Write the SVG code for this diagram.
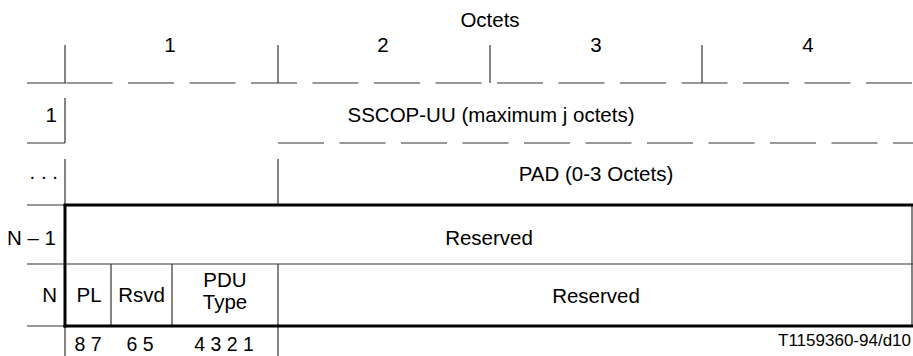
<svg xmlns="http://www.w3.org/2000/svg" width="913" height="356" viewBox="0 0 913 356">
<style>
text{font-family:"Liberation Sans",Arial,sans-serif;font-size:20.5px;fill:#000}
.c{text-anchor:middle}
.r{text-anchor:end}
.thin{stroke:#333;stroke-width:1.2;fill:none}
.thick{stroke:#000;stroke-width:3;fill:none}
.dash{stroke:#333;stroke-width:1.2;fill:none;stroke-dasharray:46 15.5}
</style>
<g id="connectors">
<line class="thin" x1="27" y1="83" x2="66" y2="83"/>
<line class="dash" x1="66.5" y1="83" x2="913" y2="83"/>
<line class="thin" x1="65" y1="45" x2="65" y2="83"/>
<line class="thin" x1="278" y1="45" x2="278" y2="83"/>
<line class="thin" x1="490" y1="45" x2="490" y2="83"/>
<line class="thin" x1="702" y1="45" x2="702" y2="83"/>
<line class="thin" x1="65" y1="98" x2="65" y2="143"/>
<line class="thin" x1="27" y1="143" x2="65" y2="143"/>
<line class="dash" x1="278" y1="143" x2="913" y2="143"/>
<line class="thin" x1="65" y1="159" x2="65" y2="205"/>
<line class="thin" x1="278" y1="159" x2="278" y2="205"/>
<line class="thin" x1="27" y1="205" x2="65" y2="205"/>
<line class="thin" x1="912" y1="205" x2="912" y2="326"/>
<line class="thin" x1="27" y1="264" x2="913" y2="264"/>
<line class="thin" x1="111" y1="264" x2="111" y2="326"/>
<line class="thin" x1="172" y1="264" x2="172" y2="326"/>
<line class="thin" x1="278" y1="264" x2="278" y2="356"/>
<line class="thin" x1="27" y1="326" x2="65" y2="326"/>
<line class="thin" x1="65" y1="326" x2="65" y2="356"/>
<line class="thick" x1="63.5" y1="205" x2="913" y2="205"/>
<line class="thick" x1="63.5" y1="326" x2="913" y2="326"/>
<line class="thick" x1="65" y1="205" x2="65" y2="327.5"/>
</g>
<g id="header">
<text class="c" x="490" y="27">Octets</text>
<text class="c" x="170" y="52">1</text>
<text class="c" x="383" y="52">2</text>
<text class="c" x="596" y="52">3</text>
<text class="c" x="808" y="52">4</text>
</g>
<g id="row1">
<text class="r" x="57" y="122">1</text>
<text class="c" x="491" y="122">SSCOP-UU (maximum j octets)</text>
</g>
<g id="rowdots">
<text class="r" x="58" y="179">. . .</text>
<text class="c" x="596" y="181">PAD (0-3 Octets)</text>
</g>
<g id="rowN1">
<text class="r" x="56" y="245">N – 1</text>
<text class="c" x="489" y="245">Reserved</text>
</g>
<g id="rowN">
<text class="r" x="57" y="302">N</text>
<text class="c" x="89" y="302">PL</text>
<text class="c" x="141.5" y="302">Rsvd</text>
<text class="c" x="225" y="287">PDU</text>
<text class="c" x="225" y="309">Type</text>
<text class="c" x="596" y="303">Reserved</text>
</g>
<g id="bits">
<text class="c" x="88" y="351" style="font-size:19.5px">8 7</text>
<text class="c" x="140" y="351" style="font-size:19.5px">6 5</text>
<text class="c" x="224" y="351" style="font-size:19.5px">4 3 2 1</text>
</g>
<text class="r" x="911" y="346" style="font-size:17px">T1159360-94/d10</text>
</svg>
